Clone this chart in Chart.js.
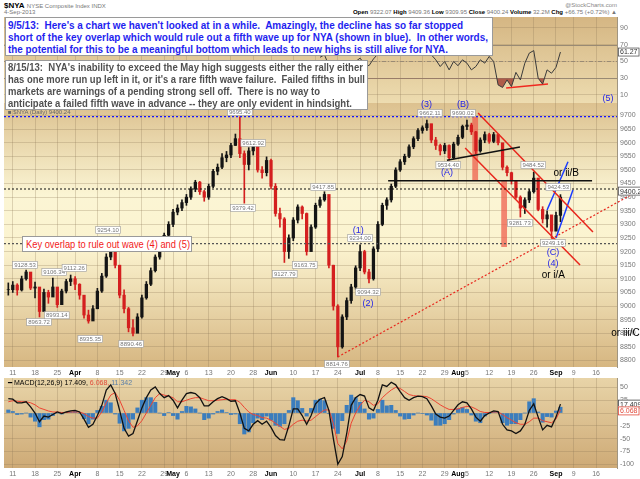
<!DOCTYPE html>
<html>
<head>
<meta charset="utf-8">
<script src="https://cdn.jsdelivr.net/npm/chart.js@4.4.1/dist/chart.umd.min.js"></script>
<style>
  body { margin: 0; background: #fff; font-family: "Liberation Sans", Arial, sans-serif; }
  #wrap { position: relative; width: 640px; height: 479px; overflow: hidden; }
  canvas { position: absolute; left: 0; }
  .txt { position: absolute; white-space: nowrap; }
  .note { position: absolute; background: #fff; border: 1px solid #9a9a9a; box-sizing: border-box; }
  .note div { height: 12px; line-height: 12px; }
  .ln { display: inline-block; white-space: nowrap; transform-origin: 0 50%; }
</style>
</head>
<body>
<div id="wrap">
  <canvas id="rsiChart" width="640" height="86" style="top:17px;width:640px;height:86px"></canvas>
  <canvas id="priceChart" width="640" height="290" style="top:88px;width:640px;height:290px"></canvas>
  <canvas id="macdChart" width="640" height="101" style="top:378px;width:640px;height:101px"></canvas>

  <div class="txt" style="left:4px;top:1px;font-size:8px;color:#000"><b>$NYA</b> <span style="font-size:6px;color:#777">NYSE Composite Index  INDX</span></div>
  <div class="txt" style="left:4px;top:9px;font-size:6px;color:#777">4-Sep-2013</div>
  <div class="txt" style="right:23px;top:2px;font-size:6px;color:#888">@StockCharts.com</div>
  <div class="txt" style="right:23px;top:9px;font-size:6px;color:#777"><b style="color:#000">Open</b> 9322.07 <b style="color:#000">High</b> 9409.36 <b style="color:#000">Low</b> 9309.95 <b style="color:#000">Close</b> 9400.24 <b style="color:#000">Volume</b> 32.2M <b style="color:#000">Chg</b> +66.75 (+0.72%) ▲</div>
  <div class="txt" style="left:8px;top:109px;font-size:6px;color:#666">■ $NYA (Daily) 9400.24</div>
  <div class="txt" style="left:8px;top:379px;font-size:7px;color:#000">━ MACD(12,26,9) 17.409, <span style="color:#e24a3a">6.068,</span> <span style="color:#5a7fa8">11.342</span></div>

  <div class="note" style="left:5px;top:17px;width:488px;height:39px;padding:1px 0 0 2px;color:#1f1fef;font-weight:bold;font-size:11px">
    <div><span class="ln" data-w="455">9/5/13:&nbsp; Here's a chart we haven't looked at in a while.&nbsp; Amazingly, the decline has so far stopped</span></div>
    <div><span class="ln" data-w="480">short of the key overlap which would rule out a fifth wave up for NYA (shown in blue).&nbsp; In other words,</span></div>
    <div><span class="ln" data-w="440">the potential for this to be a meaningful bottom which leads to new highs is still alive for NYA.</span></div>
  </div>
  <div class="note" style="left:5px;top:60px;width:363px;height:50px;padding:0 0 0 2px;color:#505050;font-weight:bold;font-size:11px">
    <div><span class="ln" data-w="355">8/15/13:&nbsp; NYA's inability to exceed the May high suggests either the rally either</span></div>
    <div><span class="ln" data-w="357">has one more run up left in it, or it's a rare fifth wave failure.&nbsp; Failed fifths in bull</span></div>
    <div><span class="ln" data-w="312">markets are warnings of a pending strong sell off.&nbsp; There is no way to</span></div>
    <div><span class="ln" data-w="344">anticipate a failed fifth wave in advance -- they are only evident in hindsight.</span></div>
  </div>
  <div class="note" style="left:22px;top:236px;width:170px;height:16px;padding:1px 0 0 3px;color:#f21a1a;font-size:11px">
    <div><span class="ln" data-w="164">Key overlap to rule out wave (4) and (5)</span></div>
  </div>
</div>

<script>
// trading days counted from 8-Mar-2013 (day 0); weekly tick labels
const tickDays = [1, 6, 11, 15, 20, 25, 30, 35, 37, 40, 45, 50, 55, 59, 64, 69, 74, 79, 83, 88, 93, 98, 101, 103, 108, 113, 118, 123, 127, 132];
const tickLabels = ["11", "18", "25", "Apr", "8", "15", "22", "29", "May", "6", "13", "20", "28", "Jun", "10", "17", "24", "Jul", "8", "15", "22", "29", "Aug", "5", "12", "19", "26", "Sep", "9", "16"];
const monthNames = ["Apr", "May", "Jun", "Jul", "Aug", "Sep"];

const closes = [
  9060, 9077, 9059, 9100, 9125, 9066, 9070, 8980, 9050, 9033,
  9070, 9005, 9055, 9090, 9100, 9080, 9040, 8967, 8945, 8990,
  9055, 9110, 9180, 9230, 9150, 9040, 8990, 8920, 8900, 8960,
  9030, 9080, 9130, 9180, 9230, 9260, 9300, 9345, 9360, 9380,
  9400, 9430, 9455, 9420, 9400, 9440, 9495, 9510, 9545, 9555,
  9590, 9615, 9560, 9520, 9570, 9590, 9500, 9490, 9535, 9440,
  9340, 9320, 9200, 9250, 9316, 9364, 9340, 9200, 9290, 9370,
  9390, 9410, 9150, 9000, 8850, 8960, 9020, 9070, 9140, 9200,
  9125, 9100, 9210, 9300, 9370, 9390, 9440, 9500, 9530, 9550,
  9585, 9615, 9645, 9655, 9670, 9610, 9590, 9570, 9590, 9545,
  9595, 9620, 9660, 9665, 9640, 9570, 9610, 9630, 9605, 9630,
  9600, 9510, 9490, 9460, 9400, 9360, 9390, 9420, 9470, 9355,
  9320, 9335, 9275, 9333, 9400.24
];
const highs = [
  9085, 9090, 9082, 9110, 9132, 9120, 9088, 9065, 9062, 9058,
  9103, 9068, 9062, 9098, 9114, 9108, 9082, 9035, 8985, 9002,
  9065, 9120, 9192, 9250, 9215, 9150, 9060, 8995, 8950, 8972,
  9040, 9090, 9140, 9188, 9240, 9268, 9310, 9355, 9372, 9390,
  9410, 9438, 9462, 9458, 9425, 9448, 9502, 9522, 9560, 9568,
  9598, 9632, 9695, 9570, 9582, 9600, 9592, 9512, 9548, 9540,
  9450, 9360, 9325, 9262, 9325, 9372, 9368, 9342, 9298, 9378,
  9400, 9420, 9405, 9150, 9005, 8968, 9030, 9080, 9148, 9225,
  9205, 9135, 9218, 9310, 9378, 9398, 9448, 9508, 9538, 9558,
  9592, 9622, 9652, 9662, 9683, 9668, 9620, 9595, 9598, 9592,
  9602, 9628, 9665, 9683, 9672, 9642, 9618, 9640, 9635, 9638,
  9632, 9590, 9515, 9492, 9462, 9405, 9398, 9428, 9492, 9470,
  9365, 9350, 9330, 9345, 9409.36
];
const lows = [
  9040, 9050, 9040, 9055, 9095, 9060, 9030, 8960, 8985, 9010,
  9040, 8995, 9005, 9048, 9075, 9060, 9025, 8955, 8937, 8950,
  8990, 9050, 9105, 9170, 9140, 9030, 8975, 8905, 8890, 8905,
  8955, 9025, 9075, 9125, 9172, 9220, 9250, 9292, 9335, 9350,
  9370, 9392, 9420, 9410, 9385, 9392, 9435, 9482, 9505, 9530,
  9545, 9590, 9545, 9378, 9500, 9555, 9492, 9470, 9478, 9430,
  9330, 9290, 9160, 9175, 9240, 9305, 9320, 9187, 9205, 9285,
  9362, 9385, 9140, 8985, 8813, 8845, 8950, 9010, 9062, 9130,
  9118, 9085, 9095, 9200, 9295, 9355, 9382, 9435, 9495, 9520,
  9545, 9578, 9608, 9635, 9645, 9600, 9575, 9555, 9560, 9536,
  9540, 9590, 9615, 9648, 9630, 9560, 9565, 9600, 9598, 9600,
  9592, 9500, 9478, 9448, 9395, 9327, 9340, 9380, 9415, 9350,
  9305, 9290, 9250, 9290, 9309.95
];

// RSI(14), only the part that is not hidden under the notes (days 70..124)
const rsiFirstDay = 70;
const rsiValues = [
  55, 58, 45, 36, 27, 36, 41, 45, 50, 54,
  47, 45, 53, 59, 63, 64, 67, 70, 71, 72,
  74, 75, 76, 76, 77, 58, 52, 44, 50, 40,
  50, 45, 52, 48, 40, 44, 52, 48, 56, 50,
  22, 19, 28, 20, 37, 28, 48, 60, 63, 30,
  23, 40, 36, 43, 61.27
];

const macdLine = [
  28, 27, 20, 20, 22, 12, 0, -17, -6, -8,
  -3, 2, -1, 2, 4, 5, 2, -12, -28, -22,
  -5, 15, 45, 55, 38, 5, -30, -45, -40, -15,
  10, 30, 45, 51, 38, 30, 34, 25, 10, 25,
  38, 40, 38, 30, 14, 14, 22, 28, 32, 28,
  23, 24, 0, -30, -35, -22, -15, -22, -16, -28,
  -44, -52, -53, -25, 8, 8, -5, -22, -5, 18,
  27, 30, 5, -50, -100, -85, -40, 15, 30, 36,
  33, 10, 5, 25, 55, 52, 60, 55, 42, 30,
  25, 30, 33, 32, 28, 14, -2, -8, -10, -6,
  5, 16, 22, 20, 8, -8, -16, -5, 0, 4,
  3, -22, -33, -35, -40, -35, -22, 5, 18, -8,
  -33, -24, -27, -8, 17.41
];
const signalLine = [
  22, 24, 23, 22, 22, 20, 16, 10, 7, 4,
  2, 2, 1, 1, 2, 2, 2, -1, -7, -10,
  -10, 2, 20, 35, 40, 25, 5, -15, -28, -25,
  -15, 0, 15, 30, 38, 35, 33, 30, 22, 22,
  25, 28, 30, 30, 27, 24, 24, 25, 26, 27,
  26, 26, 21, 11, 2, -3, -5, -9, -10, -14,
  -20, -26, -32, -30, -22, -16, -14, -16, -14, -7,
  0, 6, 6, -20, -60, -70, -55, -20, 0, 15,
  25, 22, 15, 18, 30, 38, 45, 50, 48, 42,
  36, 34, 33, 33, 32, 28, 22, 16, 11, 7,
  7, 8, 11, 13, 12, 8, 3, 1, 1, 2,
  2, -3, -9, -14, -19, -22, -22, -17, -10, -10,
  -15, -17, -19, -12, 6.07
];
const histBars = [
  6, 3, -3, -2, 0, -8, -16, -27, -13, -12,
  -5, 0, -2, 1, 2, 3, 0, -11, -21, -12,
  5, 13, 25, 20, -2, -20, -35, -30, -12, 10,
  25, 30, 30, 21, 0, -5, 1, -5, -12, 3,
  13, 12, 8, 0, -13, -10, -2, 3, 6, 1,
  -3, -2, -21, -41, -37, -19, -10, -13, -6, -14,
  -24, -26, -21, 5, 30, 24, 9, -6, 9, 25,
  27, 24, -1, -30, -40, -15, 15, 35, 30, 21,
  8, -12, -10, 7, 25, 14, 15, 5, -6, -12,
  -11, -4, 0, -1, -4, -14, -24, -24, -21, -13,
  -2, 8, 11, 7, -4, -16, -19, -6, -1, 2,
  1, -19, -24, -21, -21, -13, 0, 22, 28, 2,
  -18, -7, -8, 4, 11.34
];

const priceTicks = [8800, 8850, 8900, 8950, 9000, 9050, 9100, 9150, 9200, 9250, 9300, 9350, 9400, 9450, 9500, 9550, 9600, 9650, 9700];
const rsiTicks = [10, 30, 50, 70, 90];
const macdTicks = [-100, -75, -50, -25, 0, 25, 50];

// highlighted gaps (day span and price span)
const shadeStarts = [104.2, 110.7];
const shadeEnds = [105.5, 112.0];
const shadeTops = [9695, 9463];
const shadeBottoms = [9463, 9217];

const xMin = -0.97, xMax = 136.7;
const gridColor = "rgba(140,118,85,0.28)";
const FONT = "Liberation Sans";

// drawn wave count lines
const trendLines = [
  { from: [xMin, 9696], to: [xMax, 9696], color: "#1616ff", width: 1.4, dash: [2, 2] },
  { from: [xMin, 9430], to: [xMax, 9430], color: "#111", width: 1.2, dash: [2, 2] },
  { from: [xMin, 9229], to: [xMax, 9229], color: "#555", width: 1.2, dash: [2, 2] },
  { from: [74, 8813], to: [141.9, 9427], color: "#e8261c", width: 1.2, dash: [2, 2] },
  { from: [85.3, 9460], to: [131.1, 9460], color: "#111", width: 1.5 },
  { from: [98.5, 9536], to: [114.9, 9584], color: "#111", width: 1.5 },
  { from: [105.5, 9709], to: [131.3, 9272], color: "#e8261c", width: 1.5 },
  { from: [102.6, 9581], to: [128.4, 9151], color: "#e8261c", width: 1.5 },
  { from: [121.0, 9353], to: [125.7, 9530], color: "#1a3cff", width: 1.5 },
  { from: [123.0, 9250], to: [126.8, 9426], color: "#1a3cff", width: 1.5 }
];

const waveLabels = [
  { text: "(3)", day: 93.9, value: 9739, color: "#2424e8", font: `9px "${FONT}"` },
  { text: "(B)", day: 102.1, value: 9739, color: "#2424e8", font: `9px "${FONT}"` },
  { text: "(A)", day: 98.5, value: 9489, color: "#2424e8", font: `9px "${FONT}"` },
  { text: "(5)", day: 134.7, value: 9761, color: "#2424e8", font: `9px "${FONT}"` },
  { text: "(1)", day: 78.6, value: 9276, color: "#2424e8", font: `9px "${FONT}"` },
  { text: "(2)", day: 80.8, value: 9011, color: "#2424e8", font: `9px "${FONT}"` },
  { text: "(C)", day: 122.3, value: 9195, color: "#2424e8", font: `9px "${FONT}"` },
  { text: "(4)", day: 122.3, value: 9158, color: "#2424e8", font: `9px "${FONT}"` },
  { text: "or ii/B", day: 125.3, value: 9487, color: "#000", font: `10px "${FONT}"` },
  { text: "or i/A", day: 122.4, value: 9114, color: "#000", font: `10px "${FONT}"` },
  { text: "or iii/C", day: 138.6, value: 8901, color: "#000", font: `10px "${FONT}"` }
];

const priceTags = [
  ["9128.53", 3.75, 9151], ["8963.72", 6.9, 8941], ["9106.34", 10.3, 9125], ["8993.14", 10.9, 8966],
  ["9112.26", 14.8, 9140], ["8935.35", 18.4, 8879], ["9254.10", 22.4, 9279], ["8890.46", 27.6, 8861],
  ["9695.40", 52.0, 9713], ["9612.92", 55.0, 9599], ["9379.42", 52.7, 9360], ["9127.79", 62.1, 9118],
  ["9163.75", 66.6, 9151], ["9417.85", 70.7, 9437], ["8814.76", 73.8, 8787], ["9234.00", 79.0, 9250],
  ["9094.32", 80.8, 9051], ["9662.11", 94.7, 9709], ["9534.40", 98.8, 9518], ["9690.02", 102.1, 9709],
  ["9484.52", 117.9, 9518], ["9281.73", 114.9, 9305], ["9249.16", 122.3, 9232], ["9424.53", 123.5, 9437]
];

const dayIndex = closes.map((c, i) => i);

function bgPlugin(stops) {
  return {
    id: "panelBg",
    beforeDraw(chart) {
      const { ctx, chartArea: a } = chart;
      const g = ctx.createLinearGradient(0, a.top, 0, a.bottom);
      stops.forEach(s => g.addColorStop(s[0], s[1]));
      ctx.save();
      ctx.fillStyle = g;
      ctx.fillRect(a.left, a.top, a.right - a.left, a.bottom - a.top);
      ctx.restore();
    }
  };
}

function valueBox(ctx, x, y, text, border, color) {
  ctx.save();
  ctx.font = `7px "${FONT}"`;
  const w = ctx.measureText(text).width + 4;
  ctx.fillStyle = "#fff";
  ctx.fillRect(x, y - 4.5, w, 9);
  ctx.strokeStyle = border;
  ctx.lineWidth = 0.8;
  ctx.strokeRect(x + 0.5, y - 4, w - 1, 8);
  ctx.fillStyle = color;
  ctx.textAlign = "left";
  ctx.textBaseline = "middle";
  ctx.fillText(text, x + 2, y + 0.5);
  ctx.restore();
}

function xScale(showLabels) {
  const isMonth = c => monthNames.includes(tickLabels[c.index]);
  return {
    type: "linear", min: xMin, max: xMax, offset: false,
    grid: { color: gridColor, drawTicks: false, offset: false },
    border: { display: false },
    afterBuildTicks: s => { s.ticks = tickDays.map(v => ({ value: v })); },
    afterFit: s => { s.height = showLabels ? 11 : 0; s.paddingLeft = 0; s.paddingRight = 0; },
    ticks: {
      display: showLabels, autoSkip: false, maxRotation: 0, minRotation: 0, padding: 2,
      callback: (v, i) => tickLabels[i],
      color: c => isMonth(c) ? "#000" : "#777",
      font: c => ({ family: FONT, size: 7, weight: isMonth(c) ? "bold" : "normal" })
    }
  };
}

function yScale(min, max, ticks) {
  return {
    position: "right", min: min, max: max,
    grid: { color: gridColor, drawTicks: false },
    border: { display: true, color: "#a09580" },
    afterBuildTicks: s => { s.ticks = ticks.map(v => ({ value: v })); },
    afterFit: s => { s.width = 23; s.paddingTop = 0; s.paddingBottom = 0; },
    ticks: { padding: 3, color: "#777", font: { family: FONT, size: 7 }, callback: v => String(v) }
  };
}

const common = { responsive: false, animation: false, events: [], plugins: { legend: { display: false }, tooltip: { enabled: false } } };

// ---------- RSI panel ----------
const rsiMarks = {
  id: "rsiMarks",
  beforeDatasetsDraw(chart) {
    const { ctx, chartArea: a, scales: { y } } = chart;
    ctx.save();
    [[70, []], [30, []], [50, [4, 2, 1, 2]]].forEach(([v, dash]) => {
      const py = Math.round(y.getPixelForValue(v)) + 0.5;
      ctx.strokeStyle = "#998a74";
      ctx.lineWidth = 1;
      ctx.setLineDash(dash);
      ctx.beginPath(); ctx.moveTo(a.left, py); ctx.lineTo(a.right, py); ctx.stroke();
    });
    ctx.restore();
  },
  afterDraw(chart) {
    const { ctx, chartArea: a, scales: { y } } = chart;
    valueBox(ctx, a.right + 1, y.getPixelForValue(rsiValues[rsiValues.length - 1]), "61.27", "#555", "#333");
  }
};

new Chart(document.getElementById("rsiChart"), {
  type: "line",
  data: {
    datasets: [
      {
        data: rsiValues.map((v, k) => ({ x: rsiFirstDay + k, y: v })),
        borderColor: "#3a3a3a", borderWidth: 1, pointRadius: 0,
        fill: { target: { value: 30 }, above: "rgba(0,0,0,0)", below: "rgba(160,62,50,0.8)" }
      },
      {
        data: [{ x: 111.8, y: 18.4 }, { x: 121.2, y: 23.1 }],
        borderColor: "#f02a20", borderWidth: 1.6, pointRadius: 0, fill: false
      }
    ]
  },
  options: {
    ...common,
    layout: { padding: { left: 4, top: 0, right: 0, bottom: 0 } },
    scales: { x: xScale(false), y: yScale(0.45, 103.1, rsiTicks) }
  },
  plugins: [bgPlugin([[0, "#d5b683"], [1, "#eddcb0"]]), rsiMarks]
});

// ---------- price panel ----------
const barColors = dayIndex.map(i => (i > 0 && closes[i] < closes[i - 1]) ? "#d41f1f" : "#141414");

const priceMarks = {
  id: "priceMarks",
  beforeDatasetsDraw(chart) {
    const { ctx, scales: { x, y } } = chart;
    ctx.save();
    ctx.fillStyle = "rgba(238,92,74,0.72)";
    shadeStarts.forEach((d, k) => {
      const x0 = x.getPixelForValue(d), x1 = x.getPixelForValue(shadeEnds[k]);
      const y0 = y.getPixelForValue(shadeTops[k]), y1 = y.getPixelForValue(shadeBottoms[k]);
      ctx.fillRect(x0, y0, x1 - x0, y1 - y0);
    });
    ctx.restore();
  },
  afterDraw(chart) {
    const { ctx, chartArea: a, scales: { x, y } } = chart;
    ctx.save();
    // value tags
    ctx.font = `6px "${FONT}"`;
    priceTags.forEach(([text, d, v]) => {
      const px = x.getPixelForValue(d), py = y.getPixelForValue(v);
      const w = ctx.measureText(text).width + 3;
      ctx.fillStyle = "#fff";
      ctx.fillRect(px - w / 2, py - 3.5, w, 7);
      ctx.strokeStyle = "#9a9a9a";
      ctx.lineWidth = 0.6;
      ctx.strokeRect(px - w / 2, py - 3.5, w, 7);
      ctx.fillStyle = "#777";
      ctx.textAlign = "center";
      ctx.textBaseline = "middle";
      ctx.fillText(text, px, py + 0.3);
    });
    // wave labels
    waveLabels.forEach(l => {
      ctx.font = l.font;
      ctx.fillStyle = l.color;
      ctx.textAlign = "center";
      ctx.textBaseline = "middle";
      ctx.fillText(l.text, x.getPixelForValue(l.day), y.getPixelForValue(l.value));
    });
    ctx.restore();
    valueBox(ctx, a.right + 1, y.getPixelForValue(closes[closes.length - 1]) - 6, "9400.24", "#555", "#333");
  }
};

new Chart(document.getElementById("priceChart"), {
  type: "bar",
  data: {
    datasets: [
      {
        data: dayIndex.map(i => ({ x: i, y: [lows[i], highs[i]] })),
        backgroundColor: barColors, barThickness: 1, grouped: false, order: 3
      },
      {
        data: dayIndex.map(i => ({ x: i, y: [i ? closes[i - 1] : closes[i], closes[i]] })),
        backgroundColor: barColors, barThickness: 2.6, grouped: false, order: 2
      },
      ...trendLines.map(t => ({
        type: "line",
        data: [{ x: t.from[0], y: t.from[1] }, { x: t.to[0], y: t.to[1] }],
        borderColor: t.color, borderWidth: t.width, borderDash: t.dash || [],
        pointRadius: 0, fill: false, clip: false, order: 0
      }))
    ]
  },
  options: {
    ...common,
    layout: { padding: { left: 4, top: 15, right: 0, bottom: 0 } },
    scales: { x: xScale(true), y: yScale(8776, 9746, priceTicks) }
  },
  plugins: [bgPlugin([[0, "#dcc18f"], [0.35, "#fbf5d4"], [0.55, "#fbf3cf"], [1, "#d6b681"]]), priceMarks]
});

// ---------- MACD panel ----------
const macdMarks = {
  id: "macdMarks",
  afterDraw(chart) {
    const { ctx, chartArea: a, scales: { y } } = chart;
    valueBox(ctx, a.right + 1, y.getPixelForValue(macdLine[macdLine.length - 1]), "17.409", "#444", "#333");
    valueBox(ctx, a.right + 1, y.getPixelForValue(signalLine[signalLine.length - 1]) + 1, "6.068", "#e24a3a", "#e24a3a");
  }
};

new Chart(document.getElementById("macdChart"), {
  type: "bar",
  data: {
    datasets: [
      {
        data: dayIndex.map(i => ({ x: i, y: histBars[i] })),
        backgroundColor: "#3b7dbd", barThickness: 3.4, grouped: false, order: 2
      },
      {
        type: "line",
        data: dayIndex.map(i => ({ x: i, y: signalLine[i] })),
        borderColor: "#ee4433", borderWidth: 1, pointRadius: 0, fill: false, order: 1
      },
      {
        type: "line",
        data: dayIndex.map(i => ({ x: i, y: macdLine[i] })),
        borderColor: "#111", borderWidth: 1.3, pointRadius: 0, fill: false, order: 0
      }
    ]
  },
  options: {
    ...common,
    layout: { padding: { left: 4, top: 0, right: 0, bottom: 0 } },
    scales: { x: xScale(true), y: yScale(-107.4, 68.4, macdTicks) }
  },
  plugins: [bgPlugin([[0, "#e8d4a8"], [1, "#ceaa76"]]), macdMarks]
});

// squeeze the note lines to the widths they have in the picture
document.querySelectorAll(".ln").forEach(el => {
  const target = Number(el.dataset.w);
  const w = el.getBoundingClientRect().width;
  if (w > 0) el.style.transform = `scaleX(${target / w})`;
});
</script>
</body>
</html>
